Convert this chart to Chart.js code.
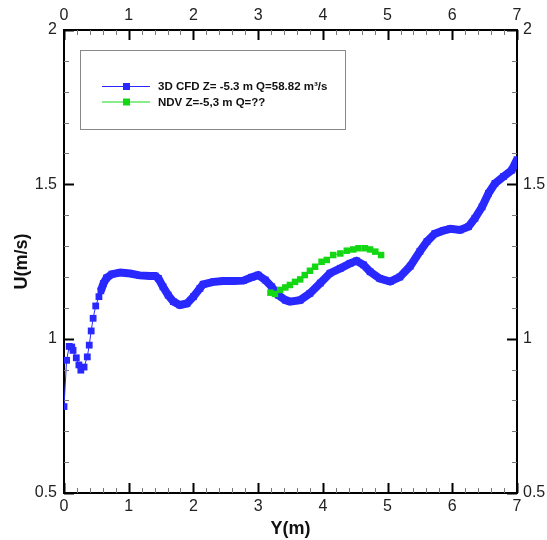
<!DOCTYPE html>
<html>
<head>
<meta charset="utf-8">
<script src="https://cdn.jsdelivr.net/npm/chart.js@4/dist/chart.umd.min.js"></script>
<style>
  body { margin: 0; background: #fff; }
  #wrap { width: 547px; height: 540px; }
</style>
</head>
<body>
<div id="wrap"><canvas id="uChart" width="547" height="540"></canvas></div>
<script>
// values
const cfdY = [0.00, 0.04, 0.08, 0.12, 0.14, 0.19, 0.23, 0.26, 0.31, 0.36, 0.39, 0.42, 0.45, 0.49, 0.54, 0.57,
  0.61, 0.66, 0.74, 0.87, 1.02, 1.17, 1.33, 1.41, 1.46, 1.53, 1.61, 1.69, 1.79, 1.90, 2.00, 2.10, 2.15,
  2.31, 2.46, 2.62, 2.77, 2.90, 3.00, 3.11, 3.21, 3.31, 3.42, 3.49, 3.65, 3.80, 3.96, 4.11, 4.27, 4.42,
  4.52, 4.63, 4.73, 4.88, 5.04, 5.19, 5.35, 5.50, 5.61, 5.73, 5.86, 5.97, 6.12, 6.25, 6.35, 6.46, 6.56,
  6.66, 6.79, 6.92, 7.00];
const cfdU = [0.78, 0.93, 0.975, 0.973, 0.962, 0.938, 0.915, 0.898, 0.908, 0.941, 0.979, 1.025, 1.066, 1.106, 1.136, 1.155,
  1.179, 1.197, 1.209, 1.214, 1.211, 1.205, 1.203, 1.203, 1.195, 1.168, 1.141, 1.12, 1.109, 1.114, 1.136, 1.163, 1.176,
  1.184, 1.187, 1.187, 1.188, 1.199, 1.206, 1.19, 1.168, 1.141, 1.125, 1.12, 1.125, 1.147, 1.18, 1.212, 1.228, 1.244,
  1.252, 1.239, 1.217, 1.195, 1.185, 1.20, 1.235, 1.283, 1.315, 1.34, 1.35, 1.356, 1.352, 1.363, 1.39, 1.427, 1.471,
  1.503, 1.525, 1.546, 1.58];

const ndvY = [3.19, 3.26, 3.34, 3.42, 3.49, 3.57, 3.65, 3.72, 3.80, 3.88, 3.98, 4.06, 4.16, 4.27, 4.37, 4.47,
  4.55, 4.65, 4.73, 4.81, 4.90];
const ndvU = [1.149, 1.145, 1.158, 1.166, 1.174, 1.184, 1.192, 1.206, 1.220, 1.233, 1.249, 1.255, 1.271, 1.276, 1.285, 1.289,
  1.293, 1.293, 1.289, 1.282, 1.271];

const xTicks = [0, 1, 2, 3, 4, 5, 6, 7];
const yTicks = [0.5, 1, 1.5, 2];

const blue = 'rgb(40, 40, 255)';
const green = 'rgb(20, 215, 20)';
const font = { family: '"Liberation Sans", Arial, sans-serif', size: 16 };

function pts(xs, ys) {
  return xs.map((x, i) => ({ x: x, y: ys[i] }));
}

// inward tick marks (major + minor) on all four sides
const innerTicks = {
  id: 'innerTicks',
  afterDraw(chart) {
    const ctx = chart.ctx;
    const xs = chart.scales.x, ys = chart.scales.y;
    const a = chart.chartArea;
    ctx.save();
    for (let v = 0; v <= 7.0001; v += 0.2) {
      const major = Math.abs(v - Math.round(v)) < 0.01;
      const len = major ? 10 : 5;
      const px = Math.round(xs.getPixelForValue(v)) + 0.5;
      ctx.strokeStyle = major ? '#000' : '#777';
      ctx.lineWidth = major ? 2 : 1;
      ctx.beginPath();
      ctx.moveTo(px, a.bottom); ctx.lineTo(px, a.bottom - len);
      ctx.moveTo(px, a.top); ctx.lineTo(px, a.top + len);
      ctx.stroke();
    }
    for (let v = 0.5; v <= 2.0001; v += 0.1) {
      const major = Math.abs(v * 2 - Math.round(v * 2)) < 0.01;
      const len = major ? 10 : 5;
      const py = Math.round(ys.getPixelForValue(v)) + 0.5;
      ctx.strokeStyle = major ? '#000' : '#777';
      ctx.lineWidth = major ? 2 : 1;
      ctx.beginPath();
      ctx.moveTo(a.left, py); ctx.lineTo(a.left + len, py);
      ctx.moveTo(a.right, py); ctx.lineTo(a.right - len, py);
      ctx.stroke();
    }
    ctx.restore();
  }
};

// boxed legend like the original plot
const boxLegend = {
  id: 'boxLegend',
  afterDraw(chart) {
    const ctx = chart.ctx;
    ctx.save();
    ctx.strokeStyle = '#888';
    ctx.lineWidth = 1;
    ctx.strokeRect(80.5, 50.5, 265, 79);
    const rows = [chart.data.datasets[0], chart.data.datasets[1]];
    rows.forEach((ds, i) => {
      const y = 86 + i * 15.5;
      ctx.strokeStyle = ds.borderColor;
      ctx.lineWidth = 1;
      ctx.beginPath();
      ctx.moveTo(102, y + 0.5); ctx.lineTo(150, y + 0.5);
      ctx.stroke();
      ctx.fillStyle = ds.pointBackgroundColor;
      ctx.fillRect(123, y - 3, 7, 7);
      ctx.fillStyle = '#111';
      ctx.font = 'bold 11.5px "Liberation Sans", Arial, sans-serif';
      ctx.textBaseline = 'middle';
      ctx.fillText(ds.label, 158, y + 1);
    });
    ctx.restore();
  }
};

function fixSize(prop, val) {
  return function(scale) { scale[prop] = val; };
}

const plainLabel = v => String(v);

const ctx = document.getElementById('uChart').getContext('2d');
const chart = new Chart(ctx, {
  type: 'scatter',
  data: {
    datasets: [{
      label: '3D CFD Z= -5.3 m Q=58.82 m\u00B3/s',
      data: pts(cfdY, cfdU),
      showLine: true,
      borderColor: blue,
      backgroundColor: blue,
      pointBackgroundColor: blue,
      pointBorderWidth: 0,
      pointStyle: 'rect',
      pointRadius: 4.8,
      borderWidth: 1,
      segment: {
        borderWidth: c => (c.p0.parsed.x >= 0.55 ? 8 : 1)
      },
      order: 1
    }, {
      label: 'NDV Z=-5,3 m Q=??',
      data: pts(ndvY, ndvU),
      showLine: true,
      borderColor: green,
      backgroundColor: green,
      pointBackgroundColor: green,
      pointBorderWidth: 0,
      pointStyle: 'rect',
      pointRadius: 4.6,
      borderWidth: 1,
      order: 0
    }]
  },
  options: {
    responsive: false,
    animation: false,
    devicePixelRatio: 1,
    layout: { padding: 0 },
    plugins: {
      legend: { display: false },
      tooltip: { enabled: false }
    },
    scales: {
      x: {
        type: 'linear', position: 'bottom', min: 0, max: 7,
        afterBuildTicks: s => { s.ticks = xTicks.map(v => ({ value: v })); },
        afterFit: fixSize('height', 47),
        grid: { display: false, drawTicks: false, tickLength: 0 },
        border: { display: true, color: '#000', width: 2 },
        ticks: { font: font, color: '#222', padding: 4, maxRotation: 0, callback: plainLabel },
        title: { display: true, text: 'Y(m)', color: '#111', padding: { top: 2, bottom: 0 },
          font: { family: font.family, size: 18, weight: 'bold' } }
      },
      x2: {
        type: 'linear', position: 'top', min: 0, max: 7,
        afterBuildTicks: s => { s.ticks = xTicks.map(v => ({ value: v })); },
        afterFit: fixSize('height', 30),
        grid: { display: false, drawTicks: false, tickLength: 0 },
        border: { display: true, color: '#000', width: 2 },
        ticks: { font: font, color: '#222', padding: 5, maxRotation: 0, callback: plainLabel }
      },
      y: {
        type: 'linear', position: 'left', min: 0.5, max: 2,
        afterBuildTicks: s => { s.ticks = yTicks.map(v => ({ value: v })); },
        afterFit: fixSize('width', 64),
        grid: { display: false, drawTicks: false, tickLength: 0 },
        border: { display: true, color: '#000', width: 2 },
        ticks: { font: font, color: '#222', padding: 7, callback: plainLabel },
        title: { display: true, text: 'U(m/s)', color: '#111', padding: { top: 11, bottom: 0 },
          font: { family: font.family, size: 18, weight: 'bold' } }
      },
      y2: {
        type: 'linear', position: 'right', min: 0.5, max: 2,
        afterBuildTicks: s => { s.ticks = yTicks.map(v => ({ value: v })); },
        afterFit: fixSize('width', 30),
        grid: { display: false, drawTicks: false, tickLength: 0 },
        border: { display: true, color: '#000', width: 2 },
        ticks: { font: font, color: '#222', padding: 6, callback: plainLabel }
      }
    }
  },
  plugins: [innerTicks, boxLegend]
});
</script>
</body>
</html>
